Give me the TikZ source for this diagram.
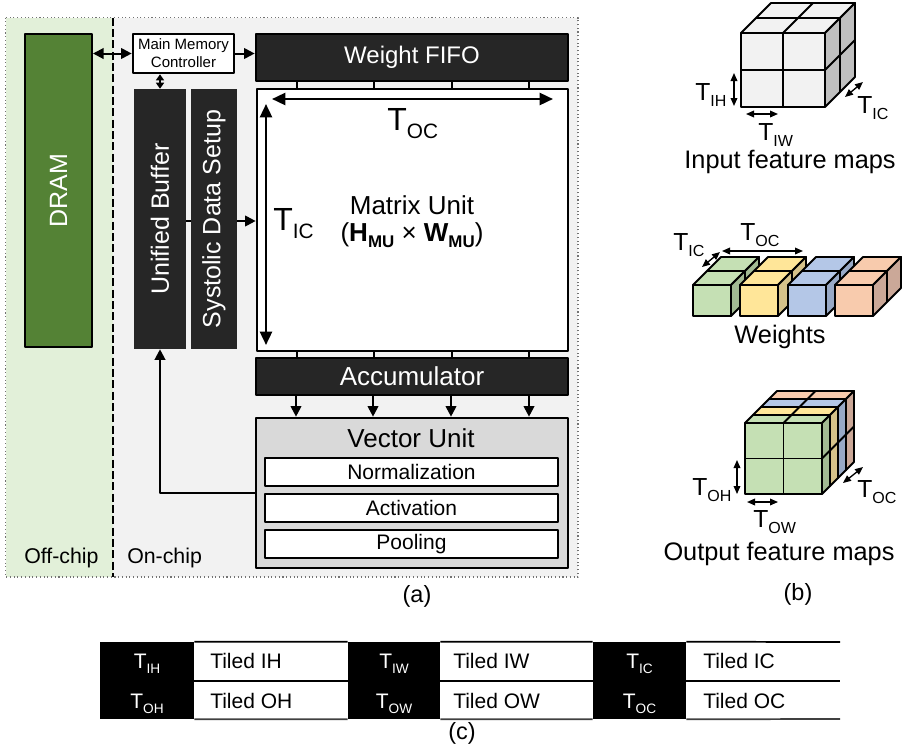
\documentclass[tikz,border=0pt]{standalone}
\usepackage{fontspec}
\setmainfont{Liberation Sans}
\usepackage{graphicx}
\usetikzlibrary{arrows.meta,fit}
\definecolor{offg}{HTML}{E2F0D9}
\definecolor{ong}{HTML}{F2F2F2}
\definecolor{dramg}{HTML}{548235}
\definecolor{dark}{HTML}{262626}
\definecolor{vug}{HTML}{D9D9D9}
\definecolor{cubef}{HTML}{F2F2F2}
\definecolor{cubes}{HTML}{BFBFBF}
\definecolor{gf}{HTML}{C5E0B4}\definecolor{gs}{HTML}{A2BA93}
\definecolor{yf}{HTML}{FFE699}\definecolor{ys}{HTML}{D5C28A}
\definecolor{bf}{HTML}{B4C7E7}\definecolor{bs}{HTML}{98A9C6}
\definecolor{pf}{HTML}{F8CBAD}\definecolor{ps}{HTML}{CBA898}
\newcommand\Tl[1]{T\raisebox{-0.5ex}{\scalebox{0.65}{#1}}}
\newcommand\Bl[2]{\textbf{#1}\raisebox{-0.5ex}{\scalebox{0.65}{\textbf{#2}}}}
\begin{document}
\begin{tikzpicture}[x=0.75pt,y=-0.75pt,line join=round,
  txt/.style={inner sep=0pt},
  fmmc/.style={font=\fontsize{11.25}{13.5}\selectfont},
  fbig/.style={font=\fontsize{18.75}{22}\selectfont},
  fwf/.style={font=\fontsize{18}{21}\selectfont},
  fmu/.style={font=\fontsize{19.5}{23}\selectfont},
  ftt/.style={font=\fontsize{24}{28}\selectfont},
  fsb/.style={font=\fontsize{15.75}{18}\selectfont},
  fchip/.style={font=\fontsize{16}{19}\selectfont},
  fcap/.style={font=\fontsize{17.6}{21}\selectfont},
  flab/.style={font=\fontsize{19}{22}\selectfont},
  fcube/.style={font=\fontsize{18.5}{22}\selectfont},
  ftab/.style={font=\fontsize{15.75}{18}\selectfont},
  blk/.style={draw=black,line width=2pt,fill=dark,inner sep=0pt},
  drk/.style={fill=dark,inner sep=0pt},
  wbox/.style={draw=black,line width=2pt,fill=white,inner sep=0pt},
  subbox/.style={draw=black,line width=1.5pt,fill=white,inner sep=0pt},
  arr/.style={line width=1.5pt,-{Triangle[length=8pt,width=8pt]}},
  darr/.style={line width=1.5pt,{Triangle[length=8pt,width=8pt]}-{Triangle[length=8pt,width=8pt]}},
  sdarr/.style={line width=1.5pt,{Triangle[length=4.5pt,width=6pt]}-{Triangle[length=4.5pt,width=6pt]}},
  bdarr/.style={line width=1.8pt,{Triangle[length=10pt,width=9pt]}-{Triangle[length=10pt,width=9pt]}},
  tdarr/.style={line width=1pt,{Triangle[length=6pt,width=5pt]}-{Triangle[length=6pt,width=5pt]}},
  cube/.style={draw=black,line width=1.4pt},
  link/.style={line width=1.5pt}]
\useasboundingbox (0,0) rectangle (903,754);
% ---------- regions ----------
\fill[offg] (5.7,17.5) rectangle (113,577);
\fill[ong] (113,17.5) rectangle (578,577);
\draw[black!55,dotted,line width=0.8pt] (5.7,17.5) rectangle (578,577);
\draw[black,line width=1pt,dash pattern=on 6pt off 2.5pt] (113,17.5) -- (113,577);
\node[txt,fchip,anchor=base west] (offl) at (24,563) {Off-chip};
\node[txt,fchip,anchor=base west] (onl) at (127,563) {On-chip};
% ---------- blocks ----------
\node[draw=black,line width=1.5pt,fill=dramg,inner sep=0pt,fit={(25,34) (92,347)}] (dram) {};
\node[rotate=90,text=white,fbig] (dramt) at (dram.center) {DRAM};
\node[wbox,fit={(133,34) (234,73)}] (mmc) {};
\node[txt,fmmc,align=center] (mmct) at (mmc.center) {Main Memory\\Controller};
\node[drk,fit={(134,89) (186,349)}] (ub) {};
\node[rotate=90,text=white,fbig] (ubt) at (ub.center) {Unified Buffer};
\node[drk,fit={(191,89) (237,349)}] (sds) {};
\node[rotate=90,text=white,fbig] (sdst) at (sds.center) {Systolic Data Setup};
\node[blk,fit={(256,34) (568,81)}] (wf) {};
\node[txt,fwf,text=white] (wft) at (wf.center) {Weight FIFO};
\node[wbox,fit={(257,89) (568,351)}] (mu) {};
\node[blk,fit={(256,358) (568,395)}] (acc) {};
\node[txt,fmu,text=white] (acct) at (acc.center) {Accumulator};
\node[draw=black,line width=2pt,fill=vug,inner sep=0pt,fit={(256,418) (568,568)}] (vu) {};
\node[txt,fmu,anchor=base] (vut) at (411,447) {Vector Unit};
\node[subbox,fit={(265,458) (558,486)}] (norm) {};
\node[txt,fsb] (normt) at (norm.center) {Normalization};
\node[subbox,fit={(265,494) (558,522)}] (act) {};
\node[txt,fsb] (actt) at (act.center) {Activation};
\node[subbox,fit={(265,530) (558,558)}] (pool) {};
\node[txt,fsb] (poolt) at (pool.center) {Pooling};
% matrix unit contents
\node[txt,fmu,anchor=base] (mut) at (412,214) {Matrix Unit};
\node[txt,fmu,anchor=base] (muf) at (412,241) {(\Bl{H}{MU} × \Bl{W}{MU})};
\node[txt,ftt,anchor=base west] (tocl) at (387,130) {\Tl{OC}};
\node[txt,ftt,anchor=base west] (ticl) at (273,230) {\Tl{IC}};
\coordinate (tocA) at (272,99);
\coordinate (tocB) at (553,99);
\draw[bdarr] (tocA) -- (tocB);
\coordinate (ticA) at (266,104);
\coordinate (ticB) at (266,345);
\draw[bdarr] (ticA) -- (ticB);
% ---------- connectors ----------
\draw[darr] (dram.east |- mmc.west) -- (mmc.west);
\draw[arr] (mmc.east) -- (wf.west |- mmc.east);
\draw[sdarr] (ub.north) -- (ub.north |- mmc.south);
\coordinate (ds) at (0,221);
\draw[link] (ub.east |- ds) -- (sds.west |- ds);
\draw[arr] (sds.east |- ds) -- (mu.west |- ds);
\foreach \x in {297,374,452,529} {
  \draw[link] (\x,0 |- wf.south) -- (\x,0 |- mu.north);
  \draw[link] (\x,0 |- mu.south) -- (\x,0 |- acc.north);
}
\foreach \x in {296,373,451,529} {
  \draw[arr] (\x,0 |- acc.south) -- (\x,0 |- vu.north);
}
\coordinate (fb) at (0,493);
\draw[arr] (vu.west |- fb) -| (ub.south);
\node[txt,fcap,anchor=base] (capa) at (417,602) {(a)};
% ---------- input feature maps ----------
\draw[cube,fill=cubef] (741,33) -- (825,33) -- (855,3) -- (771,3) -- cycle;
\draw[cube,fill=cubes] (825,33) -- (855,3) -- (855,77) -- (825,107) -- cycle;
\draw[cube,fill=cubef] (741,33) rectangle (825,107);
\draw[cube] (783,33) -- (783,107) (741,70) -- (825,70)
  (783,33) -- (813,3) (756,18) -- (840,18)
  (840,18) -- (840,92) (825,70) -- (855,40);
\coordinate (ihA) at (734,73); \coordinate (ihB) at (734,106);
\draw[tdarr] (ihA) -- (ihB);
\coordinate (iwA) at (746,114); \coordinate (iwB) at (778,114);
\draw[tdarr] (iwA) -- (iwB);
\coordinate (icA) at (845,97); \coordinate (icB) at (863,82);
\draw[tdarr] (icA) -- (icB);
\node[txt,fcube,anchor=base west] (tih) at (695,100) {\Tl{IH}};
\node[txt,fcube,anchor=base west] (tiw) at (758,140) {\Tl{IW}};
\node[txt,fcube,anchor=base west] (tic) at (857,113) {\Tl{IC}};
\node[txt,flab,anchor=base] (ifm) at (790,168) {Input feature maps};
% ---------- weights ----------
\foreach \xl/\cf/\cs in {693/gf/gs,740/yf/ys,788/bf/bs,835/pf/ps} {
  \pgfmathsetmacro\xr{\xl+38}
  \draw[cube,fill=\cf] (\xl,285) -- (\xr,285) -- (\xr+28,257) -- (\xl+28,257) -- cycle;
  \draw[cube,fill=\cs] (\xr,285) -- (\xr+28,257) -- (\xr+28,288) -- (\xr,316) -- cycle;
  \draw[cube] (\xl+14,271) -- (\xr+14,271) (\xr+14,271) -- (\xr+14,302);
  \draw[cube,fill=\cf] (\xl,285) rectangle (\xr,316);
}
\coordinate (wicA) at (702,267); \coordinate (wicB) at (720,252);
\draw[tdarr] (wicA) -- (wicB);
\coordinate (wocA) at (722,251); \coordinate (wocB) at (803,251);
\draw[tdarr] (wocA) -- (wocB);
\node[txt,fcube,anchor=base west] (wtic) at (673,250) {\Tl{IC}};
\node[txt,fcube,anchor=base west] (wtoc) at (740,240) {\Tl{OC}};
\node[txt,flab,anchor=base] (wlab) at (780,343) {Weights};
% ---------- output feature maps ----------
\foreach \k/\cf/\cs in {3/pf/ps,2/bf/bs,1/yf/ys,0/gf/gs} {
  \pgfmathsetmacro\a{8*\k}
  \pgfmathsetmacro\b{8*\k+8}
  \draw[cube,fill=\cf] (745+\a,423-\a) -- (822+\a,423-\a) -- (822+\b,423-\b) -- (745+\b,423-\b) -- cycle;
  \draw[cube,fill=\cs] (822+\a,423-\a) -- (822+\b,423-\b) -- (822+\b,494-\b) -- (822+\a,494-\a) -- cycle;
  \draw[cube] (783.5+\a,423-\a) -- (783.5+\b,423-\b) (822+\a,458.5-\a) -- (822+\b,458.5-\b);
}
\draw[cube,fill=gf] (745,423) rectangle (822,494);
\draw[cube] (783.5,423) -- (783.5,494) (745,458.5) -- (822,458.5);
\coordinate (ohA) at (737,460); \coordinate (ohB) at (737,494);
\draw[tdarr] (ohA) -- (ohB);
\coordinate (owA) at (747,502); \coordinate (owB) at (778,502);
\draw[tdarr] (owA) -- (owB);
\coordinate (ocA) at (843,483); \coordinate (ocB) at (863,467);
\draw[tdarr] (ocA) -- (ocB);
\node[txt,fcube,anchor=base west] (toh) at (692,495) {\Tl{OH}};
\node[txt,fcube,anchor=base west] (tow) at (753,527) {\Tl{OW}};
\node[txt,fcube,anchor=base west] (toc) at (857,497) {\Tl{OC}};
\node[txt,flab,anchor=base] (ofm) at (779,560) {Output feature maps};
\node[txt,fcap,anchor=base] (capb) at (798,600) {(b)};
% ---------- table ----------
\node[fill=black,inner sep=0pt,fit={(100,642) (194,719)}] (tb1) {};
\node[fill=black,inner sep=0pt,fit={(348,642) (440,719)}] (tb2) {};
\node[fill=black,inner sep=0pt,fit={(593,642) (686,719)}] (tb3) {};
\draw[line width=1.3pt] (tb1.north east) -- (tb2.north west) (tb2.north east) -- (tb3.north west) (tb3.north east) -- (840,642);
\draw[line width=0.8pt] (194,681) -- (348,681) (440,681) -- (593,681) (686,681) -- (840,681);
\draw[line width=1.3pt,black!75] (tb1.south east) -- (tb2.south west) (tb2.south east) -- (tb3.south west) (tb3.south east) -- (840,719);
\node[txt,ftab,text=white,anchor=base] (c11) at (147,668) {\Tl{IH}};
\node[txt,ftab,text=white,anchor=base] (c21) at (147,708) {\Tl{OH}};
\node[txt,ftab,text=white,anchor=base] (c13) at (394,668) {\Tl{IW}};
\node[txt,ftab,text=white,anchor=base] (c23) at (394,708) {\Tl{OW}};
\node[txt,ftab,text=white,anchor=base] (c15) at (639.5,668) {\Tl{IC}};
\node[txt,ftab,text=white,anchor=base] (c25) at (639.5,708) {\Tl{OC}};
\node[txt,ftab,anchor=base west] (c12) at (210,668) {Tiled IH};
\node[txt,ftab,anchor=base west] (c22) at (210,708) {Tiled OH};
\node[txt,ftab,anchor=base west] (c14) at (453,668) {Tiled IW};
\node[txt,ftab,anchor=base west] (c24) at (453,708) {Tiled OW};
\node[txt,ftab,anchor=base west] (c16) at (703,668) {Tiled IC};
\node[txt,ftab,anchor=base west] (c26) at (703,708) {Tiled OC};
\node[txt,fcap,anchor=base] (capc) at (462,739) {(c)};
\end{tikzpicture}
\end{document}
